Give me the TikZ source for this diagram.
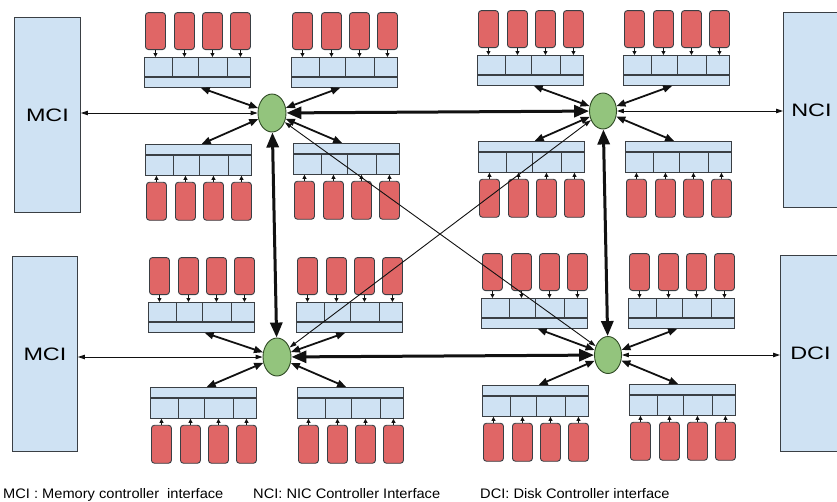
\documentclass[tikz,border=0pt]{standalone}
\usepackage{fontspec}
\setmainfont{Liberation Sans}
\newfontfamily\labelfont[FakeStretch=1.3]{Liberation Sans}
\newfontfamily\legendfont[FakeStretch=1.06]{Liberation Sans}
\usetikzlibrary{arrows.meta,calc,shapes.geometric}

\definecolor{cellblue}{HTML}{CFE2F3}
\definecolor{corered}{HTML}{E06666}
\definecolor{hubgreen}{HTML}{93C47D}
\definecolor{edgegrey}{HTML}{3A3F44}
\definecolor{hubedge}{HTML}{2F4A24}
\definecolor{wire}{HTML}{111111}

\tikzset{
  edge/.style={draw=edgegrey, line width=0.9pt},
  cellrow/.style={edge, fill=cellblue, inner sep=0pt, minimum width=106pt, minimum height=19pt, anchor=north west},
  strip/.style={edge, fill=cellblue, inner sep=0pt, minimum width=106pt, minimum height=10pt, anchor=north west},
  core/.style={edge, fill=corered, rounded corners=3pt, inner sep=0pt, minimum width=20pt, minimum height=37pt},
  hub/.style={ellipse, draw=hubedge, line width=0.9pt, fill=hubgreen, inner sep=0pt},
  ctrl/.style={edge, fill=cellblue, inner sep=0pt, anchor=north west, minimum height=195pt,
    font=\labelfont\fontsize{18}{20}\selectfont},
  legend/.style={inner sep=0pt, anchor=base west, font=\legendfont\fontsize{13.8}{15}\selectfont},
  feed/.style={draw=wire, line width=0.8pt, -{Triangle[length=4pt,width=4pt]}},
  link/.style={draw=wire, line width=1.8pt, {Triangle[length=9pt,width=7pt]}-{Triangle[length=9pt,width=7pt]}},
  trunk/.style={draw=wire, line width=3pt, {Triangle[length=15pt,width=12pt]}-{Triangle[length=15pt,width=12pt]}},
  side/.style={draw=wire, line width=0.9pt, {Triangle[length=7pt,width=4.5pt]}-{Triangle[length=7pt,width=4.5pt]}},
}

% queue with its four cores above: name, left x, top of the cell row
\newcommand\mkupbar[3]{%
  \node[cellrow] (#1c) at (#2,#3) {};
  \foreach \f in {0.265,0.51,0.78}
    \draw[edge] ($(#1c.north west)!\f!(#1c.north east)$) -- ($(#1c.south west)!\f!(#1c.south east)$);
  \node[strip] (#1) at (#1c.south west) {};
  \foreach \i/\dx in {1/1,2/30,3/58,4/86}{
    \node[core, anchor=south west] (#1r\i) at ([shift={(\dx pt,7pt)}]#1c.north west) {};
    \draw[feed] (#1r\i.south) -- (#1r\i.south |- #1c.north);
  }
}
% queue with its four cores below: name, left x, top of the strip
\newcommand\mkdownbar[3]{%
  \node[strip] (#1) at (#2,#3) {};
  \node[cellrow, minimum height=20pt] (#1c) at (#1.south west) {};
  \foreach \f in {0.265,0.51,0.78}
    \draw[edge] ($(#1c.north west)!\f!(#1c.north east)$) -- ($(#1c.south west)!\f!(#1c.south east)$);
  \foreach \i/\dx in {1/1,2/30,3/58,4/86}{
    \node[core, minimum height=38pt, anchor=north west] (#1r\i) at ([shift={(\dx pt,-6pt)}]#1c.south west) {};
    \draw[feed] (#1r\i.north) -- (#1r\i.north |- #1c.south);
  }
}

\begin{document}
\begin{tikzpicture}[x=1pt, y=-1pt]
\useasboundingbox (0,0) rectangle (837,501);
\clip (0,0) rectangle (837,501);

% controller interfaces
\node[ctrl, minimum width=66pt] (mci1) at (14,17) {MCI};
\node[ctrl, minimum width=65pt] (mci2) at (12,256) {MCI};
\node[ctrl, minimum width=56pt] (nci) at (783,12) {NCI};
\node[ctrl, minimum width=60pt, minimum height=196pt] (dci) at (780,255) {DCI};

% queues and cores around each switch
\mkupbar{A1}{144}{57}
\mkupbar{A2}{291}{57}
\mkdownbar{A3}{145}{144}
\mkdownbar{A4}{293}{143}

\mkupbar{B1}{477}{55}
\mkupbar{B2}{623}{55}
\mkdownbar{B3}{478}{141}
\mkdownbar{B4}{625}{141}

\mkupbar{C1}{148}{302}
\mkupbar{C2}{296}{302}
\mkdownbar{C3}{150}{387}
\mkdownbar{C4}{297}{387}

\mkupbar{D1}{481}{298}
\mkupbar{D2}{628}{298}
\mkdownbar{D3}{482}{385}
\mkdownbar{D4}{629}{384}

% switches
\node[hub, minimum width=28pt, minimum height=38pt] (A) at (272,113) {};
\node[hub, minimum width=27pt, minimum height=36pt] (B) at (603,111) {};
\node[hub, minimum width=28pt, minimum height=38pt] (C) at (277,357) {};
\node[hub, minimum width=27pt, minimum height=37pt] (D) at (608,355) {};

% queue to switch links
\foreach \h in {A,B,C,D}{
  \draw[link] ($(\h1.south west)!0.53!(\h1.south east)$) -- (\h);
  \draw[link] ($(\h2.south west)!0.46!(\h2.south east)$) -- (\h);
  \draw[link] ($(\h3.north west)!0.53!(\h3.north east)$) -- (\h);
  \draw[link] ($(\h4.north west)!0.46!(\h4.north east)$) -- (\h);
}

% switch to switch links
\draw[trunk] (A) -- (B);
\draw[trunk] (C) -- (D);
\draw[trunk] (A) -- (C);
\draw[trunk] (B) -- (D);
\draw[side] (A) -- (D);
\draw[side] (C) -- (B);

% switch to controller links
\draw[side] (A.west) -- (A.west -| mci1.east);
\draw[side] (C.west) -- (C.west -| mci2.east);
\draw[side] (B.east) -- (B.east -| nci.west);
\draw[side] (D.east) -- (D.east -| dci.west);

% legend
\node[legend] (lg1) at (3,498) {MCI : Memory controller\hspace{8pt}interface};
\node[legend] (lg2) at (253,498) {NCI: NIC Controller Interface};
\node[legend] (lg3) at (480,498) {DCI: Disk Controller interface};
\end{tikzpicture}
\end{document}
